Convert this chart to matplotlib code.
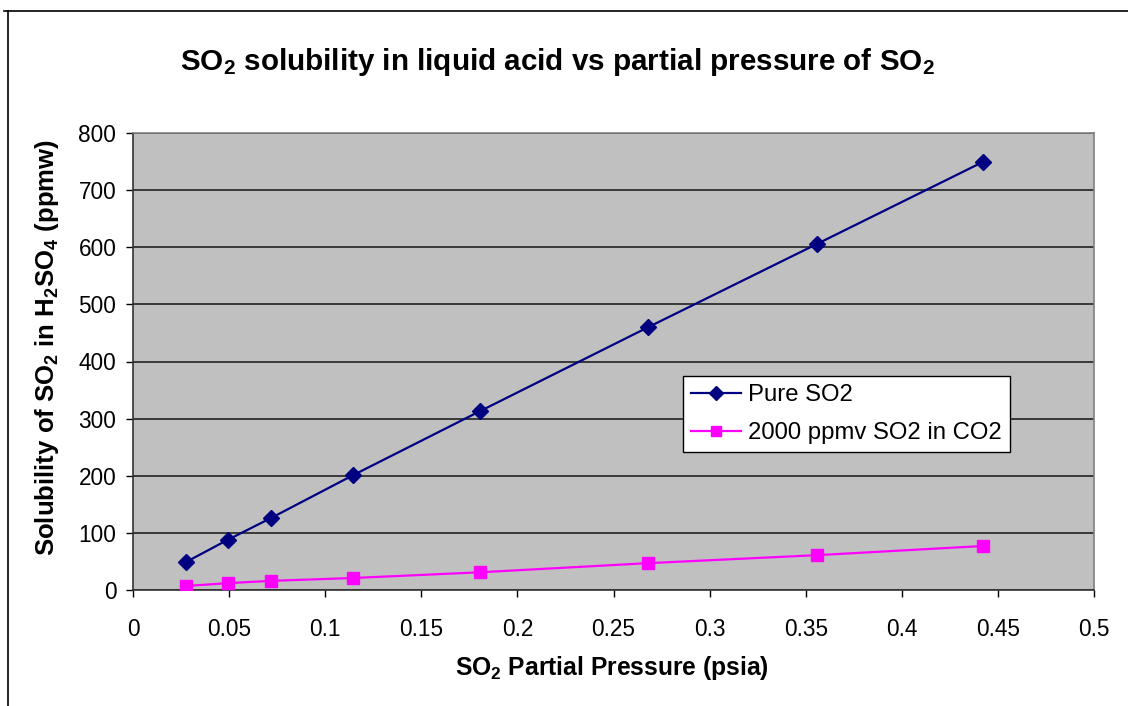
import matplotlib
matplotlib.use("Agg")
import matplotlib.pyplot as plt
from matplotlib.lines import Line2D

plt.rcParams['font.family'] = ['Liberation Sans', 'DejaVu Sans']
plt.rcParams['mathtext.default'] = 'regular'

# data
pressure = [0.0276, 0.0494, 0.0718, 0.1145, 0.1805, 0.268, 0.356, 0.442]
pure_so2 = [49, 88, 126, 201, 313, 460, 606, 749]
so2_in_co2 = [7, 12, 16, 21, 31, 47, 61, 77]

xticks = [0, 0.05, 0.1, 0.15, 0.2, 0.25, 0.3, 0.35, 0.4, 0.45, 0.5]
xtick_labels = ['0', '0.05', '0.1', '0.15', '0.2', '0.25', '0.3', '0.35', '0.4', '0.45', '0.5']
yticks = [0, 100, 200, 300, 400, 500, 600, 700, 800]


fig = plt.figure(figsize=(11.28, 7.06), dpi=100)
ax = fig.add_axes([133/1128, 1-590/706, (1094-133)/1128, (590-133)/706])
ax.set_facecolor('#C0C0C0')

ax.plot(pressure, pure_so2, color='#000080', lw=1.6, marker='D', ms=8,
        label='Pure SO2', zorder=3)
ax.plot(pressure, so2_in_co2, color='#FF00FF', lw=1.6, marker='s', ms=8,
        label='2000 ppmv SO2 in CO2', zorder=3)

ax.set_xlim(0, 0.5)
ax.set_ylim(0, 800)
ax.set_xticks(xticks)
ax.set_xticklabels(xtick_labels)
ax.set_yticks(yticks)
ax.yaxis.grid(True, color='#222222', lw=1.2)
ax.set_axisbelow(True)
ax.tick_params(direction='out', length=5, width=1, labelsize=16.3, colors='black')
ax.tick_params(axis='y', pad=7)
ax.tick_params(axis='x', pad=15)

for s in ['left', 'bottom']:
    ax.spines[s].set_color('#333333')
    ax.spines[s].set_linewidth(1.2)
for s in ['top', 'right']:
    ax.spines[s].set_color('#808080')
    ax.spines[s].set_linewidth(1.2)

ax.set_xlabel('SO$_2$ Partial Pressure (psia)', fontsize=17.7, fontweight='bold', va='center')
ax.xaxis.set_label_coords((612-133)/961, (590-668)/457)
ax.set_ylabel('Solubility of SO$_2$ in H$_2$SO$_4$ (ppmw)', fontsize=18.5, fontweight='bold', va='center')
ax.yaxis.set_label_coords((47-133)/961, (590-348)/457)
fig.text(557/1128, 1-62/706, 'SO$_2$ solubility in liquid acid vs partial pressure of SO$_2$',
         fontsize=21.3, fontweight='bold', ha='center', va='center')

leg = ax.legend(loc='upper left', bbox_to_anchor=((683-133)/961, 1-(376-133)/457),
                fontsize=17.2, frameon=True, fancybox=False, framealpha=1,
                edgecolor='black', borderpad=0.33, borderaxespad=0,
                handlelength=2.1, handletextpad=0.3, labelspacing=0.68,
                markerscale=0.85)
leg.get_frame().set_linewidth(1)

# outer chart border (left and top)
fig.add_artist(Line2D([8/1128, 8/1128], [0, 1-11/706], color='black', lw=1.2))
fig.add_artist(Line2D([4/1128, 1], [1-11/706, 1-11/706], color='black', lw=1.2))

fig.savefig('out.png', dpi=100)
